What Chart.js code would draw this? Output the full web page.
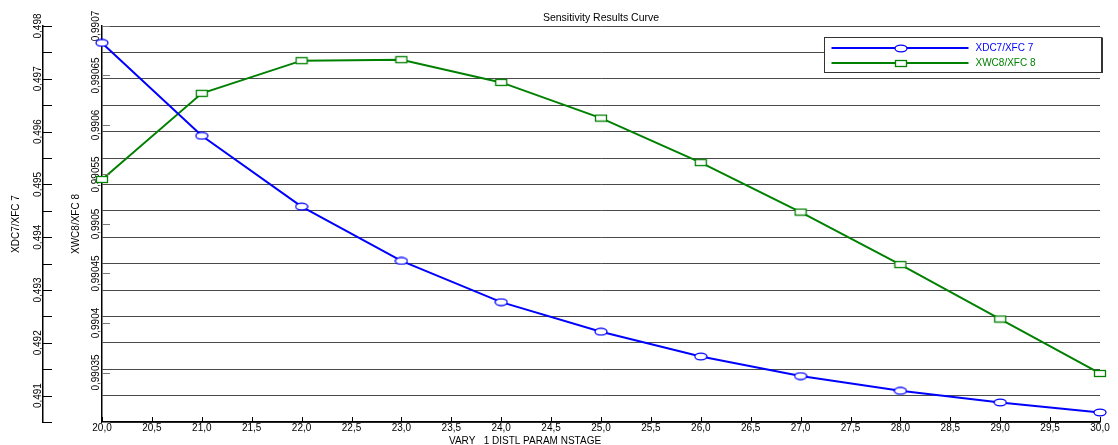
<!DOCTYPE html>
<html>
<head>
<meta charset="utf-8">
<script src="https://cdn.jsdelivr.net/npm/chart.js@4.4.1/dist/chart.umd.min.js"></script>
<style>
  html, body { margin: 0; padding: 0; background: #fff; }
  #wrap { width: 1118px; height: 445px; position: relative; }
</style>
</head>
<body>
<div id="wrap"><canvas id="c"></canvas></div>
<script>
// ---- data ----
const stages = [20, 21, 22, 23, 24, 25, 26, 27, 28, 29, 30];
const xdc7 = [0.49768, 0.49592, 0.49458, 0.49355, 0.49277, 0.49221, 0.49174, 0.49137, 0.49109, 0.49087, 0.49068];
const xwc8 = [0.990545, 0.990632, 0.990665, 0.990666, 0.990643, 0.990607, 0.990562, 0.990512, 0.990459, 0.990404, 0.990349];
const seriesNames = ['XDC7/XFC 7', 'XWC8/XFC 8'];
const chartTitle = 'Sensitivity Results Curve';
const xAxisTitle = 'VARY   1 DISTL PARAM NSTAGE';
const xRange = [20, 30];
const xStep = 0.5;
const y1Range = [0.4905, 0.498];
const y1Step = 0.0005;
const y2Range = [0.9903, 0.9907];
const y2Step = 0.00005;

const FONT = "'Liberation Sans', Arial, Helvetica, sans-serif";
const BLUE = '#0000ff';
const GREEN = '#008000';

Chart.defaults.font.family = FONT;
Chart.defaults.font.size = 10;
Chart.defaults.color = '#000';

// open marker images (ellipse / rectangle), wider than tall
function makeMarker(shape, color) {
  const c = document.createElement('canvas');
  c.width = 14; c.height = 9;
  const g = c.getContext('2d');
  g.fillStyle = '#fff';
  g.strokeStyle = color;
  g.lineWidth = 1.3;
  if (shape === 'ellipse') {
    g.beginPath();
    g.ellipse(7, 4.5, 6, 3.3, 0, 0, Math.PI * 2);
    g.fill(); g.stroke();
  } else {
    g.fillRect(1, 1.5, 12, 6);
    g.strokeRect(1.5, 1.5, 11, 6);
  }
  return c;
}
const markerBlue = makeMarker('ellipse', BLUE);
const markerGreen = makeMarker('rect', GREEN);

const toPoints = (ys) => stages.map((s, i) => ({ x: s, y: ys[i] }));
const fmtComma = (v, d) => Number(v.toFixed(d)).toString().replace('.', ',');

// inward tick marks on all three axes
const tickMarks = {
  id: 'tickMarks',
  afterDraw(chart) {
    const ctx = chart.ctx;
    const { y1, y2, x } = chart.scales;
    ctx.save();
    ctx.lineWidth = 1;
    ctx.strokeStyle = '#000';
    ctx.beginPath();
    y1.ticks.forEach(t => {
      const py = Math.round(y1.getPixelForValue(t.value)) + 0.5;
      ctx.moveTo(y1.right, py); ctx.lineTo(y1.right + 9, py);
    });
    x.ticks.forEach(t => {
      const px = Math.round(x.getPixelForValue(t.value)) + 0.5;
      ctx.moveTo(px, x.top); ctx.lineTo(px, x.top - 5);
    });
    ctx.stroke();
    ctx.strokeStyle = '#777';
    ctx.beginPath();
    y2.ticks.forEach(t => {
      const py = Math.round(y2.getPixelForValue(t.value)) + 0.5;
      ctx.moveTo(y2.right, py); ctx.lineTo(y2.right + 8, py);
    });
    ctx.stroke();
    ctx.restore();
  }
};

// x axis caption
const xCaption = {
  id: 'xCaption',
  afterDraw(chart) {
    const ctx = chart.ctx, a = chart.chartArea;
    ctx.save();
    ctx.font = '10px ' + FONT;
    ctx.fillStyle = '#000';
    ctx.textAlign = 'left';
    ctx.textBaseline = 'middle';
    ctx.fillText(xAxisTitle, a.left + 347, a.bottom + 19);
    ctx.restore();
  }
};

// boxed legend with long line samples and centred markers
const legendBox = {
  id: 'legendBox',
  afterDraw(chart) {
    const ctx = chart.ctx, a = chart.chartArea;
    const x0 = a.right - 275.5, y0 = a.top + 11.5, w = 277, h = 35;
    ctx.save();
    ctx.fillStyle = '#fff';
    ctx.fillRect(x0, y0, w, h);
    ctx.strokeStyle = '#333';
    ctx.lineWidth = 1;
    ctx.strokeRect(x0, y0, w, h);
    ctx.lineWidth = 2;
    ctx.beginPath(); ctx.moveTo(x0 + w + 0.5, y0); ctx.lineTo(x0 + w + 0.5, y0 + h + 0.5); ctx.stroke();
    ctx.font = '10px ' + FONT;
    ctx.textAlign = 'left';
    ctx.textBaseline = 'middle';
    chart.data.datasets.forEach((ds, i) => {
      const yy = Math.round(y0 + 10 + i * 15.6);
      ctx.strokeStyle = ds.borderColor;
      ctx.lineWidth = 2;
      ctx.beginPath(); ctx.moveTo(x0 + 7, yy); ctx.lineTo(x0 + 144, yy); ctx.stroke();
      const img = ds.pointStyle;
      ctx.drawImage(img, Math.round(x0 + 76 - img.width / 2), Math.round(yy - img.height / 2));
      ctx.fillStyle = ds.borderColor;
      ctx.fillText(ds.label, x0 + 151, yy);
    });
    ctx.restore();
  }
};

new Chart(document.getElementById('c'), {
  type: 'line',
  data: {
    datasets: [
      {
        label: seriesNames[0], data: toPoints(xdc7), yAxisID: 'y1',
        borderColor: BLUE, backgroundColor: BLUE, borderWidth: 2, tension: 0,
        pointStyle: markerBlue, pointRadius: 5, clip: false
      },
      {
        label: seriesNames[1], data: toPoints(xwc8), yAxisID: 'y2',
        borderColor: GREEN, backgroundColor: GREEN, borderWidth: 2, tension: 0,
        pointStyle: markerGreen, pointRadius: 5, clip: false
      }
    ]
  },
  options: {
    responsive: true,
    maintainAspectRatio: false,
    animation: false,
    layout: { padding: { left: 0, right: 18, top: 0, bottom: 0 } },
    plugins: {
      legend: { display: false },
      tooltip: { enabled: false },
      title: {
        display: true, text: chartTitle, fullSize: false, color: '#000',
        font: { size: 10.5, weight: 'normal' }, padding: { top: 12, bottom: 1.4 }
      }
    },
    scales: {
      x: {
        type: 'linear', position: 'bottom', min: xRange[0], max: xRange[1],
        grid: { display: false, drawTicks: false },
        border: { display: true, color: '#000', width: 1.5 },
        ticks: {
          stepSize: xStep, autoSkip: false, maxRotation: 0, padding: 0.5,
          callback: v => v.toFixed(1).replace('.', ',')
        },
        afterFit: s => { s.height = 23; }
      },
      y1: {
        type: 'linear', position: 'left', weight: 1, min: y1Range[0], max: y1Range[1],
        grid: { display: true, drawTicks: false, color: '#4a4a4a', lineWidth: 1 },
        border: { display: true, color: '#000', width: 1.5 },
        title: { display: true, text: seriesNames[0], padding: { top: 10.5, bottom: 0 }, font: { size: 10 } },
        ticks: {
          stepSize: y1Step, autoSkip: false, minRotation: 90, maxRotation: 90,
          crossAlign: 'center', padding: -8,
          callback: v => (Math.round(v / y1Step) % 2 ? '' : fmtComma(v, 4))
        },
        afterFit: s => { s.width = 43; }
      },
      y2: {
        type: 'linear', position: 'left', weight: 0, min: y2Range[0], max: y2Range[1],
        grid: { display: false, drawTicks: false },
        border: { display: true, color: '#000', width: 1.5 },
        title: { display: true, text: seriesNames[1], padding: { top: 27.5, bottom: 0 }, font: { size: 10 } },
        ticks: {
          stepSize: y2Step, autoSkip: false, minRotation: 90, maxRotation: 90,
          crossAlign: 'center', padding: -12.3,
          callback: v => (Math.abs(v - y2Range[0]) < 1e-9 ? '' : fmtComma(v, 5))
        },
        afterFit: s => { s.width = 59; }
      }
    }
  },
  plugins: [tickMarks, xCaption, legendBox]
});
</script>
</body>
</html>
